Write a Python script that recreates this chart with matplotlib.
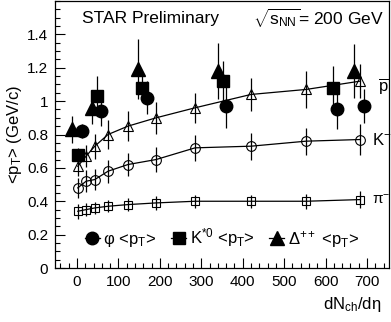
import numpy as np
import matplotlib
matplotlib.use('Agg')
import matplotlib.pyplot as plt
from matplotlib.lines import Line2D
from matplotlib.ticker import MultipleLocator

plt.rcParams['font.family'] = ['Liberation Sans', 'DejaVu Sans']
plt.rcParams['mathtext.fontset'] = 'custom'
plt.rcParams['mathtext.rm'] = 'Liberation Sans'
plt.rcParams['mathtext.it'] = 'Liberation Sans:italic'
plt.rcParams['mathtext.sf'] = 'Liberation Sans'

# --- data ---
dnch = [2, 22, 43, 75, 123, 191, 285, 420, 553, 684]
pion = [0.34, 0.35, 0.36, 0.37, 0.38, 0.39, 0.40, 0.40, 0.40, 0.41]
pion_err = [0.045, 0.04, 0.035, 0.035, 0.04, 0.04, 0.04, 0.04, 0.045, 0.05]
kaon = [0.48, 0.52, 0.53, 0.58, 0.62, 0.65, 0.72, 0.73, 0.76, 0.77]
kaon_err = [0.06, 0.065, 0.065, 0.07, 0.07, 0.075, 0.08, 0.08, 0.08, 0.09]
pbar = [0.61, 0.67, 0.73, 0.80, 0.85, 0.90, 0.96, 1.04, 1.07, 1.12]
pbar_err = [0.06, 0.065, 0.075, 0.085, 0.09, 0.095, 0.09, 0.10, 0.11, 0.10]

phi_x = [11, 57, 168, 360, 627, 692]
phi_y = [0.82, 0.94, 1.02, 0.97, 0.95, 0.97]
phi_err = [0.04, 0.09, 0.10, 0.13, 0.115, 0.10]

kstar_x = [2, 48, 158, 352, 617]
kstar_y = [0.68, 1.03, 1.08, 1.12, 1.08]
kstar_err = [0.04, 0.12, 0.08, 0.12, 0.13]

delta_x = [-12, 36, 147, 341, 669]
delta_y = [0.83, 0.96, 1.19, 1.18, 1.18]
delta_err = [0.08, 0.10, 0.18, 0.17, 0.16]

fig = plt.figure(figsize=(3.91, 3.22), dpi=100)
ax = fig.add_axes([55 / 391, 54 / 322, 334 / 391, 267 / 322])

ebkw = dict(color='black', ecolor='black', elinewidth=0.9, capsize=0, linewidth=0.9)

# open-marker series with connecting curves
ax.errorbar(dnch, pion, yerr=pion_err, marker='s', ms=6, mfc='none', mew=0.8, **ebkw)
ax.errorbar(dnch, kaon, yerr=kaon_err, marker='o', ms=7, mfc='none', mew=0.8, **ebkw)
ax.errorbar(dnch, pbar, yerr=pbar_err, marker='^', ms=7, mfc='none', mew=0.8, **ebkw)

# filled resonance points
ebkw2 = dict(color='black', ecolor='black', elinewidth=0.9, capsize=0, linestyle='none')
ax.errorbar(phi_x, phi_y, yerr=phi_err, marker='o', ms=9, **ebkw2)
ax.errorbar(kstar_x, kstar_y, yerr=kstar_err, marker='s', ms=8.5, **ebkw2)
ax.errorbar(delta_x, delta_y, yerr=delta_err, marker='^', ms=10, **ebkw2)

ax.set_xlim(-53, 753)
ax.set_ylim(0, 1.6)
ax.set_xticks([0, 100, 200, 300, 400, 500, 600, 700])
ax.set_yticks([0, 0.2, 0.4, 0.6, 0.8, 1.0, 1.2, 1.4])
ax.set_yticklabels(['0', '0.2', '0.4', '0.6', '0.8', '1', '1.2', '1.4'])
ax.xaxis.set_minor_locator(MultipleLocator(20))
ax.yaxis.set_minor_locator(MultipleLocator(0.05))
ax.tick_params(which='both', direction='in', top=False, right=False, labelsize=11, pad=5)
ax.tick_params(which='major', length=7, width=0.8)
ax.tick_params(which='minor', length=3.5, width=0.8)
for sp in ax.spines.values():
    sp.set_linewidth(0.9)

# particle labels on the right
ax.text(727, 1.09, r'$\overline{\rm p}$', fontsize=12, va='center')
ax.text(712, 0.77, r'K$^{-}$', fontsize=12, va='center')
ax.text(712, 0.41, r'π$^{-}$', fontsize=11, va='center')

fig.text(82 / 391, 1 - 18 / 322, 'STAR Preliminary', fontsize=12.5, va='center')
fig.text(253 / 391, 1 - 18 / 322, r'$\sqrt{{\rm s}_{\rm NN}}$= 200 GeV', fontsize=12.5, va='center')

ax.set_ylabel(r'<p$_{\rm T}$> (GeV/c)', fontsize=12, labelpad=2)
fig.text(381 / 391, 1 - 305 / 322, r'dN$_{\rm ch}$/dη', fontsize=12, ha='right', va='center')

handles = [
    Line2D([], [], color='black', marker='o', ms=9, lw=0.9),
    Line2D([], [], color='black', marker='s', ms=8.5, lw=0.9),
    Line2D([], [], color='black', marker='^', ms=10, lw=0.9),
]
labels = [r'φ <p$_{\rm T}$>', r'K$^{*0}$ <p$_{\rm T}$>', r'Δ$^{++}$ <p$_{\rm T}$>']
ax.legend(handles, labels, loc='center', bbox_to_anchor=(0.5, 0.112), ncol=3,
          frameon=False, fontsize=12, handlelength=0.9, handletextpad=0.2,
          columnspacing=0.9)

fig.savefig('out.png', dpi=100)
